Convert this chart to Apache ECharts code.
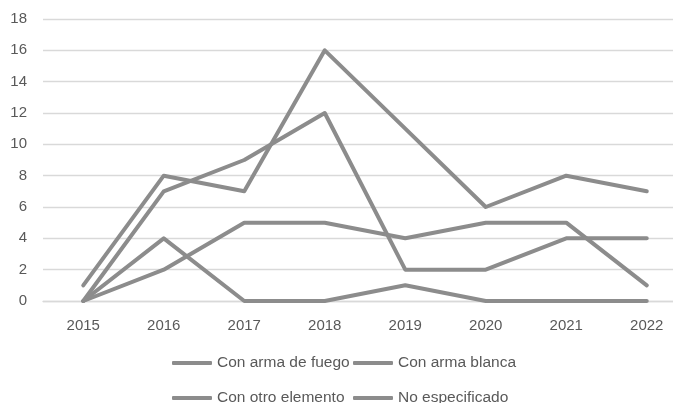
<!DOCTYPE html>
<html><head><meta charset="utf-8">
<script src="https://cdn.jsdelivr.net/npm/echarts@6/dist/echarts.min.js"></script>
<style>html,body{margin:0;padding:0;background:#fff;overflow:hidden;width:673px;height:403px}#c{width:687px;height:403px}</style>
</head><body><div id="c"></div>
<script>
const years = ['2015','2016','2017','2018','2019','2020','2021','2022'];
const seriesNames = ['Con arma de fuego','Con arma blanca','Con otro elemento','No especificado'];
const armaFuego = [1, 8, 7, 16, 11, 6, 8, 7];
const armaBlanca = [0, 7, 9, 12, 2, 2, 4, 4];
const otroElemento = [0, 2, 5, 5, 4, 5, 5, 1];
const noEspecificado = [0, 4, 0, 0, 1, 0, 0, 0];
const yTicks = { min: 0, max: 18, interval: 2 };

const values = [armaFuego, armaBlanca, otroElemento, noEspecificado];
const lineColor = '#8c8c8c';
const font = 'Liberation Sans';

const legendPos = [[172, 355], [353, 355], [172, 390], [353, 390]];
const chart = echarts.init(document.getElementById('c'), null, {renderer: 'canvas'});
chart.setOption({
  animation: false,
  backgroundColor: '#fff',
  grid: { left: 43, right: 0, top: 19, bottom: 102, containLabel: false },
  legend: seriesNames.map((n, i) => ({
    data: [n], left: legendPos[i][0], top: legendPos[i][1], padding: 0,
    icon: 'roundRect', itemWidth: 40, itemHeight: 4,
    textStyle: { color: '#595959', fontSize: 15.5, fontFamily: font }
  })),
  xAxis: {
    type: 'category', data: years, boundaryGap: true,
    axisLine: { show: true, lineStyle: { color: '#d9d9d9', width: 1.3 } },
    axisTick: { show: false },
    axisLabel: { color: '#595959', fontSize: 15, fontFamily: font, margin: 17 }
  },
  yAxis: {
    type: 'value', min: yTicks.min, max: yTicks.max, interval: yTicks.interval,
    axisLine: { show: false }, axisTick: { show: false },
    splitLine: { lineStyle: { color: '#d9d9d9', width: 1.3 } },
    axisLabel: { color: '#595959', fontSize: 15, fontFamily: font, margin: 16 }
  },
  series: seriesNames.map((n, i) => ({
    name: n, type: 'line', data: values[i], symbol: 'none',
    color: lineColor,
    lineStyle: { color: lineColor, width: 4, cap: 'round', join: 'round' }
  }))
});
</script></body></html>
